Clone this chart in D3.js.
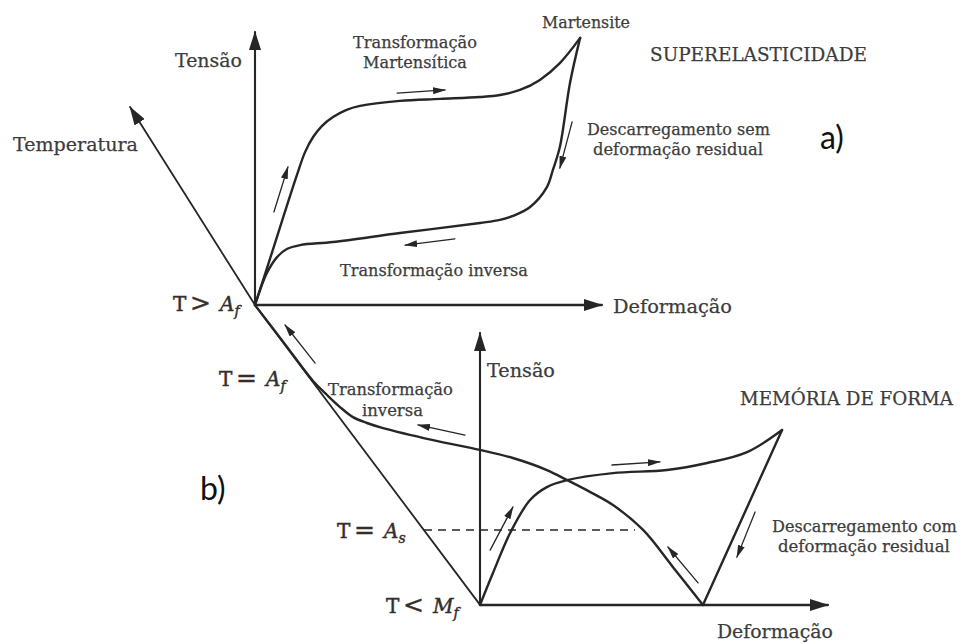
<!DOCTYPE html>
<html>
<head>
<meta charset="utf-8">
<script src="https://cdn.jsdelivr.net/npm/d3@7"></script>
<style>
  html, body { margin: 0; padding: 0; background: #fff; }
  svg { display: block; }
</style>
</head>
<body>
<svg id="chart" width="960" height="644"></svg>
<script>
// ---------- data (strain, stress), both in % of the axis length ----------
// a) superelasticity: loading plateau and unloading branch
const superLoading = [[0,0],[4.0,15.4],[8.0,31.1],[11.7,45.4],[14.3,54.6],[16.6,60.0],[19.1,63.9],
  [22.3,67.1],[26.0,69.6],[30.0,71.1],[41.4,72.9],[52.9,73.6],[64.3,74.3],[70.0,75.0],[75.7,76.8],
  [81.4,80.4],[87.1,86.4],[92.9,95.4]];
const superUnloading = [[92.9,95.4],[90.0,79.3],[87.1,56.4],[85.1,48.2],[83.4,42.1],[78.6,35.0],
  [73.7,31.8],[70.0,30.4],[64.3,29.3],[41.4,25.7],[22.3,22.5],[12.9,21.4],[9.1,20.0],[6.3,17.1],
  [3.4,11.4],[0,0]];
const superFlow = [[[5.4,33.2],[9.4,49.3]],[[40.6,75.7],[54.3,76.8]],[[57.1,23.6],[42.9,21.4]],
  [[90.6,65.4],[87.1,48.9]]];
// temperature axis, expressed in panel a units (runs through both origins)
const temperatureAxis = [[64.3,-107.1],[0,0],[-35.7,70.7]];
const superAxisEnds = [99.1, 97.5];   // strain, stress

// b) shape memory: loading, unloading with residual strain, recovery on heating
const memoryLoading = [[0,0],[3.7,11.4],[8.6,25.7],[14.3,37.5],[19.1,42.1],[24.9,44.6],[38.0,47.1],
  [53.4,48.2],[64.9,50.7],[76.3,54.6],[86.3,62.5]];
const memoryUnloading = [[86.3,62.5],[63.7,0]];
const memoryRecovery = [[63.7,0],[55.1,13.6],[46.6,26.8],[38.0,35.7],[31.4,40.4],[24.9,44.6],
  [19.1,48.2],[9.4,52.5],[0,55.4],[-13.4,58.9],[-27.7,63.2],[-32.3,65.0],[-36.3,67.1],[-40.0,70.7],
  [-43.7,75.0],[-47.7,80.0],[-56.0,93.6],[-64.3,107.1]];
const memoryFlow = [[[-47.1,86.4],[-55.7,100]],[[-4.3,60.7],[-17.7,64.3]],[[2.9,19.6],[9.4,35.0]],
  [[37.7,50.0],[51.4,51.1]],[[62.3,7.9],[53.7,20.7]],[[78.6,33.2],[73.4,17.1]]];
const asLevel = [[-16.0,26.8],[44.3,26.8]];
const memoryAxisEnds = [99.4, 97.1];

// ---------- text ----------
const superTexts = ["Tensão","Temperatura","Transformação","Martensítica","Martensite",
  "SUPERELASTICIDADE","Descarregamento sem","deformação residual","Transformação inversa","Deformação"];
const memoryTexts = ["Tensão","MEMÓRIA DE FORMA","Transformação","inversa",
  "Descarregamento com","deformação residual","Deformação"];
const tempLabels = [["T",">","A","f"],["T","=","A","f"],["T","=","A","s"],["T","<","M","f"]];
const panelTags = ["a)","b)"];

// ---------- scales ----------
const xa = d3.scaleLinear().domain([0,100]).range([255,605]);
const ya = d3.scaleLinear().domain([0,100]).range([305,25]);
const xb = d3.scaleLinear().domain([0,100]).range([480,830]);
const yb = d3.scaleLinear().domain([0,100]).range([605,325]);

const svg = d3.select("#chart");
const ink = "#262626";
const textInk = "#3c3c3c";

const defs = svg.append("defs");
function marker(id, len, wid) {
  defs.append("marker").attr("id", id)
    .attr("viewBox", `0 ${-wid/2} ${len} ${wid}`)
    .attr("refX", len - 1).attr("refY", 0)
    .attr("markerWidth", len).attr("markerHeight", wid)
    .attr("markerUnits", "userSpaceOnUse").attr("orient", "auto")
    .append("path").attr("d", `M0,${-wid/2}L${len},0L0,${wid/2}Z`).attr("fill", ink);
}
marker("axisHead", 19, 12);
marker("flowHead", 13, 7);

const lineA = d3.line().x(d => xa(d[0])).y(d => ya(d[1]));
const lineB = d3.line().x(d => xb(d[0])).y(d => yb(d[1]));
const curveA = d3.line().x(d => xa(d[0])).y(d => ya(d[1])).curve(d3.curveCatmullRom.alpha(0.5));
const curveB = d3.line().x(d => xb(d[0])).y(d => yb(d[1])).curve(d3.curveCatmullRom.alpha(0.5));

const g = svg.append("g").attr("fill", "none").attr("stroke", ink).attr("stroke-linecap", "round");

// temperature axis
g.append("path").attr("d", lineA(temperatureAxis)).attr("stroke-width", 1.8)
  .attr("marker-end", "url(#axisHead)");

// axes of both panels
[[lineA, superAxisEnds], [lineB, memoryAxisEnds]].forEach(([ln, ends]) => {
  g.append("path").attr("d", ln([[0,0],[ends[0],0]])).attr("stroke-width", 2.3).attr("marker-end", "url(#axisHead)");
  g.append("path").attr("d", ln([[0,0],[0,ends[1]]])).attr("stroke-width", 2.1).attr("marker-end", "url(#axisHead)");
});

// dashed A_s level
g.append("path").attr("d", lineB(asLevel)).attr("stroke-width", 1.4).attr("stroke-dasharray", "8,6")
  .attr("stroke-linecap", "butt");

// curves
g.append("path").attr("d", curveA(superLoading)).attr("stroke-width", 2.4);
g.append("path").attr("d", curveA(superUnloading)).attr("stroke-width", 2.4);
g.append("path").attr("d", curveB(memoryLoading)).attr("stroke-width", 2.4);
g.append("path").attr("d", lineB(memoryUnloading)).attr("stroke-width", 2.4);
g.append("path").attr("d", curveB(memoryRecovery)).attr("stroke-width", 2.4);

// small direction arrows
g.selectAll(".flowA").data(superFlow).join("path").attr("class", "flowA")
  .attr("d", d => lineA(d)).attr("stroke-width", 1.3).attr("marker-end", "url(#flowHead)");
g.selectAll(".flowB").data(memoryFlow).join("path").attr("class", "flowB")
  .attr("d", d => lineB(d)).attr("stroke-width", 1.3).attr("marker-end", "url(#flowHead)");

// ---------- labels ----------
const serif = "'DejaVu Serif', serif";
function label(text, x, y, width, anchor) {
  const t = svg.append("text").attr("x", x).attr("y", y)
    .attr("font-family", serif).attr("font-size", 16).attr("fill", textInk)
    .attr("stroke", textInk).attr("stroke-width", 0.25)
    .attr("text-anchor", anchor || "start").text(text);
  const w = t.node().getComputedTextLength();
  t.attr("font-size", (16 * width / w).toFixed(2));
  return t;
}
// panel a
label(superTexts[0], 175, 67, 67);
label(superTexts[1], 13, 151, 125);
label(superTexts[2], 415, 48, 124, "middle");
label(superTexts[3], 415, 68, 104, "middle");
label(superTexts[4], 586, 28, 88, "middle");
label(superTexts[5], 650, 61, 217);
label(superTexts[6], 587, 135, 183);
label(superTexts[7], 593, 155, 170);
label(superTexts[8], 340, 276, 188);
label(superTexts[9], 613, 313, 119);
// panel b
label(memoryTexts[0], 487, 377, 68);
label(memoryTexts[1], 740, 405, 213);
label(memoryTexts[2], 328, 395, 125);
label(memoryTexts[3], 362, 416, 61);
label(memoryTexts[4], 772, 532, 185);
label(memoryTexts[5], 778, 552, 172);
label(memoryTexts[6], 717, 638, 116);

// temperature labels: upright T and relation, italic symbol with subscript
const tempPos = [[173,311],[219,386],[337,538],[386,613]];
const mathInk = "#332e2a";
tempLabels.forEach((parts, i) => {
  const [x0, y0] = tempPos[i];
  const t = svg.append("text").attr("y", y0)
    .attr("font-family", serif).attr("font-size", 20)
    .attr("fill", mathInk).attr("stroke", mathInk).attr("stroke-width", 0.45);
  t.append("tspan").attr("x", x0).text(parts[0]);
  t.append("tspan").attr("x", x0 + 17).attr("font-size", 25).text(parts[1]);
  t.append("tspan").attr("x", x0 + 47).attr("font-style", "italic").text(parts[2]);
  t.append("tspan").attr("font-style", "italic").attr("font-size", 14).attr("dy", 5).text(parts[3]);
});

// panel tags
const tagPos = [[820,149],[200,500]];
panelTags.forEach((s, i) => {
  svg.append("text").attr("x", tagPos[i][0]).attr("y", tagPos[i][1])
    .attr("font-family", "Lato, 'Open Sans', sans-serif").attr("font-size", 32)
    .attr("fill", "#111").text(s);
});
</script>
</body>
</html>
